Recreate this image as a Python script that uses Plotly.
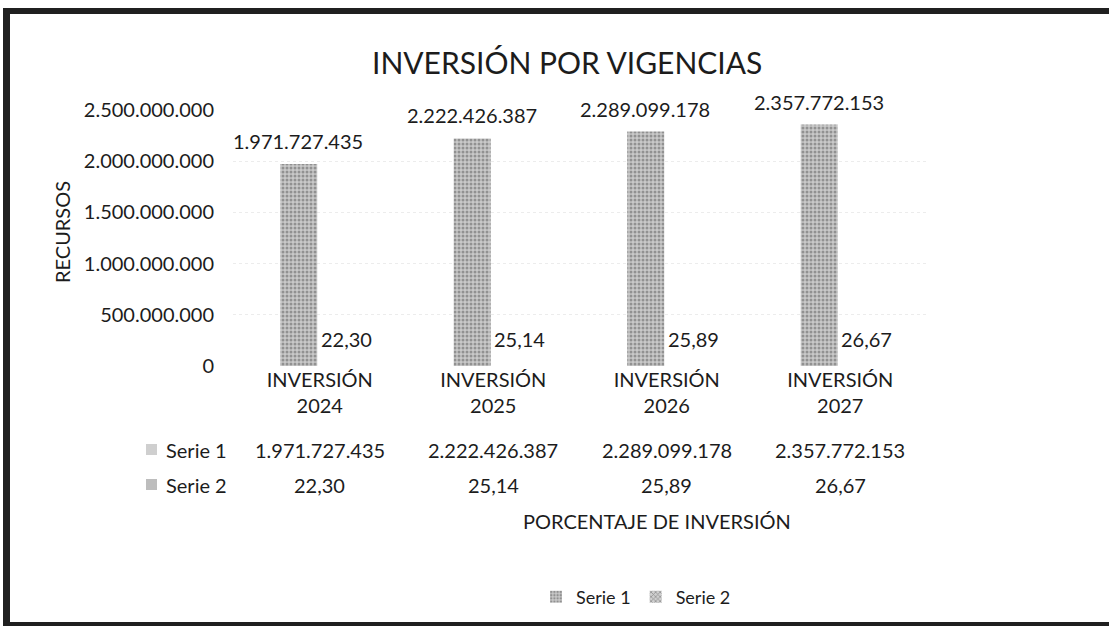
import plotly.graph_objects as go

# Investment per year (pesos) and share of investment (%)
categorias = ["INVERSIÓN<br>2024", "INVERSIÓN<br>2025", "INVERSIÓN<br>2026", "INVERSIÓN<br>2027"]
serie1 = [1971727435, 2222426387, 2289099178, 2357772153]
serie2 = [22.30, 25.14, 25.89, 26.67]
serie1_txt = ["1.971.727.435", "2.222.426.387", "2.289.099.178", "2.357.772.153"]
serie2_txt = ["22,30", "25,14", "25,89", "26,67"]
y_ticks = [0, 500000000, 1000000000, 1500000000, 2000000000, 2500000000]

W, H = 1109, 628
FONT = "Lato"
TXT = "#1c1c1c"
FS = 20


def px(x):
    return x / W


def py(y):
    return 1 - y / H


xs = list(range(len(categorias)))

fig = go.Figure()
fig.add_trace(go.Bar(
    name="Serie 1", x=xs, y=serie1,
    marker=dict(color="#b8b8b8", line=dict(width=0),
                pattern=dict(shape=".", fgcolor="#5a5a5a", bgcolor="#c9c9c9",
                             size=4, solidity=0.45)),
))
fig.add_trace(go.Bar(
    name="Serie 2", x=xs, y=serie2,
    marker=dict(color="#b0b0b0", line=dict(width=0),
                pattern=dict(shape="x", fgcolor="#4a4a4a", bgcolor="#cfcfcf",
                             size=4, solidity=0.4)),
))

annotations = []
off = 0.123  # half slot width of a grouped bar in category units
for i in xs:
    annotations.append(dict(x=i - off, y=serie1[i], xref="x", yref="y",
                            text=serie1_txt[i], showarrow=False, yanchor="bottom",
                            xanchor="center", yshift=9, font=dict(size=FS, color=TXT)))
    annotations.append(dict(x=i + off + 0.03, y=serie2[i], xref="x", yref="y",
                            text=serie2_txt[i], showarrow=False, yanchor="bottom",
                            xanchor="center", yshift=13, font=dict(size=FS, color=TXT)))
    # data table rows
    annotations.append(dict(x=i, y=py(450), xref="x", yref="paper",
                            text=serie1_txt[i], showarrow=False,
                            xanchor="center", yanchor="middle",
                            font=dict(size=FS, color=TXT)))
    annotations.append(dict(x=i, y=py(485), xref="x", yref="paper",
                            text=serie2_txt[i], showarrow=False,
                            xanchor="center", yanchor="middle",
                            font=dict(size=FS, color=TXT)))

# data table row headers
for label, yy in [("Serie 1", 450), ("Serie 2", 485)]:
    annotations.append(dict(x=px(164), y=py(yy), xref="paper", yref="paper",
                            text=label, showarrow=False, xanchor="left",
                            yanchor="middle", font=dict(size=FS, color=TXT)))

annotations += [
    dict(x=px(567), y=py(62), xref="paper", yref="paper", text="INVERSIÓN POR VIGENCIAS",
         showarrow=False, xanchor="center", yanchor="middle",
         font=dict(size=30, color=TXT)),
    dict(x=px(62), y=py(232), xref="paper", yref="paper", text="RECURSOS",
         textangle=-90, showarrow=False, xanchor="center", yanchor="middle",
         font=dict(size=FS, color=TXT)),
    dict(x=px(657), y=py(521), xref="paper", yref="paper", text="PORCENTAJE DE INVERSIÓN",
         showarrow=False, xanchor="center", yanchor="middle",
         font=dict(size=FS, color=TXT)),
]

shapes = []
# data table legend keys
for yy, fc in [(450, "#cfcfcf"), (485, "#bdbdbd")]:
    shapes.append(dict(type="rect", xref="paper", yref="paper",
                       x0=px(146), x1=px(157), y0=py(yy + 5), y1=py(yy - 6),
                       fillcolor=fc, line=dict(width=0)))
# outer frame (left, top, bottom)
frame = "#202020"
shapes += [
    dict(type="line", xref="paper", yref="paper", x0=px(6.5), x1=px(6.5),
         y0=py(8), y1=py(625), line=dict(color=frame, width=7)),
    dict(type="line", xref="paper", yref="paper", x0=px(3), x1=1,
         y0=py(11), y1=py(11), line=dict(color=frame, width=6)),
    dict(type="line", xref="paper", yref="paper", x0=px(3), x1=1,
         y0=py(624), y1=py(624), line=dict(color=frame, width=4)),
]

fig.update_layout(
    width=W, height=H,
    margin=dict(l=0, r=0, t=0, b=0, autoexpand=False),
    paper_bgcolor="white", plot_bgcolor="white",
    separators=",.",
    barmode="group", bargap=0.515, bargroupgap=0.12,
    font=dict(family=FONT, color=TXT, size=FS),
    showlegend=True,
    legend=dict(orientation="h", x=px(636), xanchor="center", y=py(597), yanchor="middle",
                font=dict(size=18, color=TXT), itemwidth=30, tracegroupgap=0,
                bgcolor="rgba(0,0,0,0)"),
    xaxis=dict(domain=[px(233), px(927)], range=[-0.5, 3.5],
               tickvals=xs, ticktext=categorias, showgrid=False, zeroline=False,
               showline=False, ticks="", tickfont=dict(size=FS, color=TXT)),
    yaxis=dict(domain=[py(366), py(110)], range=[0, 2500000000],
               tickvals=y_ticks, tickformat=",d", showgrid=True,
               gridcolor="#ececec", griddash="dot", gridwidth=1,
               zeroline=False, showline=False, ticks="",
               ticklabelstandoff=18, tickfont=dict(size=FS, color=TXT)),
    annotations=annotations,
    shapes=shapes,
)

fig.write_html("out.html")
